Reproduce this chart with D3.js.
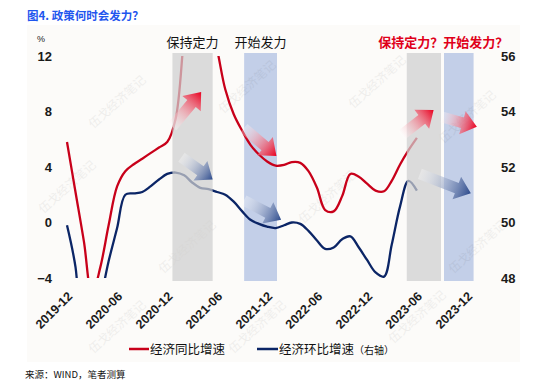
<!DOCTYPE html>
<html>
<head>
<meta charset="utf-8">
<script src="https://cdn.jsdelivr.net/npm/d3@7"></script>
<style>
  body { margin: 0; background: #fff; }
  text { font-family: "Liberation Sans", Arial, "Noto Sans CJK SC", sans-serif; }
  .cjk { font-family: "Noto Sans CJK SC", sans-serif; }
</style>
</head>
<body>
<svg id="chart" width="550" height="390"></svg>
<script>
// 月度数据 2019-12 ~ 2023-06
let months = d3.timeMonth.range(new Date(2019, 11, 1), new Date(2023, 6, 1))
// 经济同比增速 (左轴, %)
let redValues = [5.8, 2.2, -1.4, -5.2, -3.2, -0.2, 2.6, 3.7, 4.2, 4.6, 5.0, 5.4, 5.8, 7.5, 13.5, 18.0, 17.5, 15.0, 12.5, 9.6, 7.8, 6.6, 5.6, 4.9, 4.4, 4.1, 4.15, 4.35, 4.3, 3.7, 2.5, 0.9, 0.8, 1.9, 3.5, 3.3, 2.8, 2.3, 2.25, 3.0, 4.2, 5.2, 6.1]
// 经济环比增速 (右轴)
let blueValues = [49.9, 48.4, 45.5, 46.0, 47.2, 48.6, 49.8, 51.0, 51.05, 51.1, 51.3, 51.55, 51.75, 51.8, 51.7, 51.45, 51.25, 51.2, 51.1, 51.0, 50.75, 50.4, 50.1, 49.95, 49.85, 49.8, 49.9, 50.0, 49.95, 49.7, 49.35, 49.05, 49.1, 49.4, 49.5, 49.1, 48.65, 48.2, 48.05, 49.2, 50.6, 51.5, 51.15]

let xTickLabels = ["2019-12", "2020-06", "2020-12", "2021-06", "2021-12", "2022-06", "2022-12", "2023-06", "2023-12"]
let leftTicks = [-4, 0, 4, 8, 12]
let rightTicks = [48, 50, 52, 54, 56]

// 阴影区间: 保持定力(灰) / 开始发力(蓝)
let bandStarts = ["2020-12-20", "2021-09-08", "2023-04-25", "2023-09-08"]
let bandEnds = ["2021-05-16", "2022-01-06", "2023-08-28", "2023-12-25"]
let bandTypes = ["hold", "push", "hold", "push"]
let bandTitles = ["保持定力", "开始发力"]

// 箭头 (起点日期, 起点值, 终点日期, 终点值) 左轴坐标
let arrowFromDates = ["2020-12-19", "2021-01-22", "2021-09-07", "2021-09-07", "2023-04-06", "2023-09-01", "2023-06-12"]
let arrowFromValues = [6.9, 4.7, 6.8, 1.6, 6.3, 7.6, 3.5]
let arrowToDates = ["2021-04-04", "2021-05-16", "2022-01-04", "2022-01-21", "2023-08-01", "2024-01-06", "2023-12-15"]
let arrowToValues = [9.4, 3.1, 4.8, 0.2, 8.1, 6.9, 2.1]
let arrowKinds = ["red", "blue", "red", "blue", "red", "red", "blue"]

let parseDay = d3.timeParse("%Y-%m-%d")
let parseMonth = d3.timeParse("%Y-%m")

let svg = d3.select("#chart")

// 背景
svg.append("rect").attr("x", 27).attr("y", 25).attr("width", 493).attr("height", 337).attr("fill", "#fcfbf9")

// 标题
svg.append("text").attr("class", "cjk").attr("x", 27).attr("y", 20)
    .attr("font-size", 11.5).attr("font-weight", "bold").attr("fill", "#1f56ee")
    .text("图4. 政策何时会发力？")

let x = d3.scaleTime().domain([parseMonth("2019-12"), parseMonth("2023-12")]).range([67, 467])
let yL = d3.scaleLinear().domain([-4, 12]).range([278, 56])
let yR = d3.scaleLinear().domain([48, 56]).range([278, 56])

let defs = svg.append("defs")
defs.append("clipPath").attr("id", "plotClip")
    .append("rect").attr("x", 40).attr("y", 56).attr("width", 460).attr("height", 222)

// 灰/蓝阴影
let bands = bandStarts.map((s, i) => ({ s: parseDay(s), e: parseDay(bandEnds[i]), type: bandTypes[i] }))
let bandColor = { hold: "#cfcfcf", push: "#c3cfe8" }

// 蓝色区间放在曲线下方
svg.append("g").selectAll("rect")
    .data(bands.filter(b => b.type === "push"))
    .join("rect")
    .attr("x", d => x(d.s)).attr("width", d => x(d.e) - x(d.s))
    .attr("y", 53).attr("height", 228)
    .attr("fill", bandColor.push)

// 水印
let wmPos = [[120, 105], [250, 90], [380, 85], [70, 190], [190, 250], [330, 200], [470, 120], [480, 250], [260, 330], [420, 320], [120, 330]]
svg.append("g").selectAll("text").data(wmPos).join("text")
    .attr("class", "cjk")
    .attr("transform", d => `translate(${d[0]},${d[1]}) rotate(-42)`)
    .attr("text-anchor", "middle").attr("font-size", 12)
    .attr("fill", "#000").attr("opacity", 0.05)
    .text("伍戈经济笔记")

// 曲线 (平滑)
let lineRed = d3.line().x((d, i) => x(months[i])).y(d => yL(d)).curve(d3.curveCatmullRom.alpha(0.5))
let lineBlue = d3.line().x((d, i) => x(months[i])).y(d => yR(d)).curve(d3.curveCatmullRom.alpha(0.5))

let plot = svg.append("g").attr("clip-path", "url(#plotClip)")
plot.append("path").datum(redValues).attr("d", lineRed)
    .attr("fill", "none").attr("stroke", "#c8001a").attr("stroke-width", 2.3)
plot.append("path").datum(blueValues).attr("d", lineBlue)
    .attr("fill", "none").attr("stroke", "#0b2566").attr("stroke-width", 2.3)

// 灰色区间盖在曲线上 (半透明)
svg.append("g").selectAll("rect")
    .data(bands.filter(b => b.type === "hold"))
    .join("rect")
    .attr("x", d => x(d.s)).attr("width", d => x(d.e) - x(d.s))
    .attr("y", 53).attr("height", 228)
    .attr("fill", bandColor.hold).attr("opacity", 0.72)

// 渐变箭头
let gradColors = { red: ["#ffffff", "#e8001f"], blue: ["#ffffff", "#2c4a8c"] }
Object.keys(gradColors).forEach(k => {
    let g = defs.append("linearGradient").attr("id", "grad-" + k)
        .attr("x1", 0).attr("y1", 0).attr("x2", 1).attr("y2", 0)
    g.append("stop").attr("offset", "0%").attr("stop-color", gradColors[k][0]).attr("stop-opacity", 0.3)
    g.append("stop").attr("offset", "100%").attr("stop-color", gradColors[k][1]).attr("stop-opacity", 1)
})

function arrowPath(len) {
    let bw = 5.5, hw = 12, hl = 15
    return `M0,${-bw}L${len - hl},${-bw}L${len - hl},${-hw}L${len},0L${len - hl},${hw}L${len - hl},${bw}L0,${bw}Z`
}

let arrows = arrowFromDates.map((d, i) => {
    let x0 = x(parseDay(d)), y0 = yL(arrowFromValues[i])
    let x1 = x(parseDay(arrowToDates[i])), y1 = yL(arrowToValues[i])
    return { x0, y0, len: Math.hypot(x1 - x0, y1 - y0), ang: Math.atan2(y1 - y0, x1 - x0) * 180 / Math.PI, kind: arrowKinds[i] }
})
svg.append("g").selectAll("path").data(arrows).join("path")
    .attr("transform", d => `translate(${d.x0},${d.y0}) rotate(${d.ang})`)
    .attr("d", d => arrowPath(d.len))
    .attr("fill", d => `url(#grad-${d.kind})`)

// 左轴
let axL = svg.append("g").attr("transform", "translate(56,0)")
    .call(d3.axisLeft(yL).tickValues(leftTicks).tickSize(0).tickPadding(4))
axL.select(".domain").remove()
axL.selectAll("text").attr("font-size", 13).attr("font-weight", "bold").attr("fill", "#1a1a1a")
    .attr("font-family", "Liberation Sans, Arial, sans-serif")

// 右轴
let axR = svg.append("g").attr("transform", "translate(498,0)")
    .call(d3.axisRight(yR).tickValues(rightTicks).tickSize(0).tickPadding(3))
axR.select(".domain").remove()
axR.selectAll("text").attr("font-size", 13).attr("font-weight", "bold").attr("fill", "#1a1a1a")
    .attr("font-family", "Liberation Sans, Arial, sans-serif")

svg.append("text").attr("x", 37).attr("y", 42).attr("font-size", 9).attr("fill", "#222").text("%")

// x轴标签 (斜45度)
svg.append("g").selectAll("text").data(xTickLabels).join("text")
    .attr("transform", d => `translate(${x(parseMonth(d)) + 3},${294}) rotate(-45)`)
    .attr("text-anchor", "end").attr("dy", "0.35em")
    .attr("font-size", 12.5).attr("font-weight", "bold").attr("fill", "#1a1a1a")
    .text(d => d)

// 区间标题
let holdBand = bands[0], pushBand = bands[1]
svg.append("text").attr("class", "cjk").attr("x", (x(holdBand.s) + x(holdBand.e)) / 2).attr("y", 47)
    .attr("text-anchor", "middle").attr("font-size", 13).attr("fill", "#111").text(bandTitles[0])
svg.append("text").attr("class", "cjk").attr("x", (x(pushBand.s) + x(pushBand.e)) / 2).attr("y", 47)
    .attr("text-anchor", "middle").attr("font-size", 13).attr("fill", "#111").text(bandTitles[1])
svg.append("text").attr("class", "cjk").attr("x", (x(bands[2].s) + x(bands[3].e)) / 2 + 3).attr("y", 47)
    .attr("text-anchor", "middle").attr("font-size", 13).attr("font-weight", "bold").attr("fill", "#e0001a")
    .text(bandTitles[0] + "？" + bandTitles[1] + "？")

// 图例
let legend = svg.append("g").attr("transform", "translate(0,349)")
legend.append("line").attr("x1", 129).attr("x2", 149).attr("y1", 0).attr("y2", 0).attr("stroke", "#c8001a").attr("stroke-width", 2.5)
legend.append("text").attr("class", "cjk").attr("x", 150).attr("y", 4.5).attr("font-size", 12.5).attr("fill", "#111").text("经济同比增速")
legend.append("line").attr("x1", 257).attr("x2", 278).attr("y1", 0).attr("y2", 0).attr("stroke", "#0b2566").attr("stroke-width", 2.5)
let lt = legend.append("text").attr("class", "cjk").attr("x", 279).attr("y", 4.5).attr("font-size", 12.5).attr("fill", "#111")
lt.append("tspan").text("经济环比增速")
lt.append("tspan").attr("font-size", 10).text("（右轴）")

// 来源
svg.append("text").attr("class", "cjk").attr("x", 25).attr("y", 378).attr("font-size", 9.5).attr("fill", "#111")
    .text("来源：WIND，笔者测算")
</script>
</body>
</html>
